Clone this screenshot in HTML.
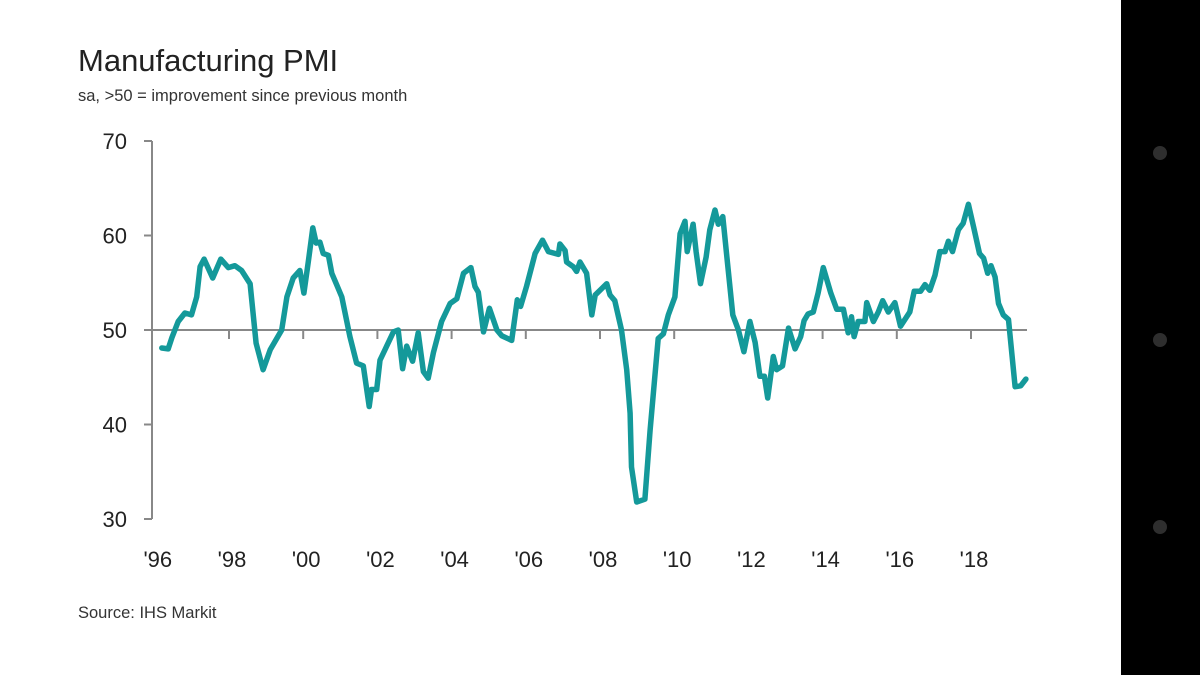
<!DOCTYPE html>
<html><head><meta charset="utf-8"><style>
html,body{margin:0;padding:0;background:#fff;}
body{width:1200px;height:675px;overflow:hidden;position:relative;font-family:"Liberation Sans",sans-serif;}
</style></head><body>
<svg width="1200" height="675" viewBox="0 0 1200 675" xmlns="http://www.w3.org/2000/svg">
<rect x="0" y="0" width="1121" height="675" fill="#fff"/>
<rect x="1121" y="0" width="79" height="675" fill="#000"/>
<circle cx="1160" cy="153" r="7" fill="#2e2e2e"/>
<circle cx="1160" cy="340" r="7" fill="#2e2e2e"/>
<circle cx="1160" cy="527" r="7" fill="#2e2e2e"/>
<text x="78" y="71" font-size="31" fill="#222">Manufacturing PMI</text>
<text x="78" y="101" font-size="16.5" fill="#333">sa, &gt;50 = improvement since previous month</text>
<text x="78" y="618" font-size="16.5" fill="#333">Source: IHS Markit</text>
<g id="axes"></g>
<g id="plot"></g>
</svg>
<script>
const dates=[1996.19,1996.36,1996.46,1996.63,1996.81,1996.99,1997.13,1997.22,1997.33,1997.56,1997.78,1997.98,1998.16,1998.34,1998.57,1998.73,1998.92,1999.11,1999.42,1999.56,1999.73,1999.91,2000.02,2000.14,2000.26,2000.35,2000.45,2000.54,2000.68,2000.77,2000.90,2001.04,2001.26,2001.44,2001.62,2001.78,2001.84,2001.98,2002.07,2002.25,2002.43,2002.56,2002.68,2002.79,2002.95,2003.10,2003.24,2003.37,2003.51,2003.73,2003.96,2004.14,2004.32,2004.52,2004.63,2004.72,2004.86,2005.02,2005.22,2005.35,2005.62,2005.77,2005.86,2006.02,2006.25,2006.45,2006.61,2006.88,2006.92,2007.06,2007.10,2007.28,2007.37,2007.46,2007.64,2007.78,2007.87,2008.05,2008.18,2008.27,2008.40,2008.58,2008.72,2008.81,2008.85,2008.99,2009.21,2009.35,2009.57,2009.71,2009.84,2010.02,2010.16,2010.29,2010.35,2010.51,2010.59,2010.71,2010.86,2010.96,2011.10,2011.19,2011.31,2011.42,2011.58,2011.73,2011.88,2012.04,2012.18,2012.31,2012.43,2012.52,2012.67,2012.76,2012.92,2013.08,2013.26,2013.41,2013.50,2013.61,2013.75,2013.88,2014.02,2014.22,2014.38,2014.56,2014.69,2014.78,2014.85,2014.96,2015.14,2015.19,2015.37,2015.50,2015.62,2015.77,2015.95,2016.10,2016.35,2016.47,2016.64,2016.76,2016.89,2017.03,2017.16,2017.30,2017.39,2017.50,2017.66,2017.79,2017.93,2018.07,2018.23,2018.34,2018.45,2018.54,2018.65,2018.74,2018.87,2019.01,2019.19,2019.34,2019.48];
const pmi=[48.1,48.0,49.2,50.9,51.8,51.6,53.5,56.7,57.5,55.5,57.5,56.6,56.8,56.3,54.9,48.6,45.8,47.9,50.0,53.5,55.5,56.3,53.9,57.3,60.8,59.2,59.3,58.1,57.9,56.0,54.8,53.5,49.3,46.5,46.2,41.9,43.7,43.7,46.8,48.3,49.8,50.0,45.9,48.3,46.7,49.7,45.6,44.9,47.6,50.9,52.8,53.3,56.0,56.6,54.6,54.0,49.8,52.3,50.0,49.4,48.9,53.2,52.5,54.6,58.1,59.5,58.3,58.0,59.1,58.4,57.2,56.7,56.2,57.2,56.0,51.6,53.7,54.4,54.9,53.7,53.1,50.0,45.8,41.2,35.5,31.8,32.1,39.4,49.1,49.6,51.6,53.5,60.2,61.5,58.3,61.2,58.3,54.9,57.7,60.6,62.7,61.2,62.0,57.7,51.6,50.0,47.7,50.9,48.7,45.1,45.1,42.8,47.2,45.8,46.2,50.2,48.0,49.3,51.0,51.7,51.9,53.9,56.6,53.9,52.2,52.2,49.7,51.4,49.3,50.9,50.9,52.9,50.9,51.9,53.1,51.9,52.9,50.4,51.9,54.1,54.1,54.8,54.2,55.8,58.3,58.3,59.4,58.3,60.6,61.3,63.3,60.9,58.1,57.6,56.0,56.8,55.6,52.8,51.6,51.1,44.0,44.1,44.8];
const yTicks=[30,40,50,60,70];
const xTickYears=[1998,2000,2002,2004,2006,2008,2010,2012,2014,2016,2018];
const xLabels=["'96","'98","'00","'02","'04","'06","'08","'10","'12","'14","'16","'18"];
const xLabelYears=[1996,1998,2000,2002,2004,2006,2008,2010,2012,2014,2016,2018];

const NS="http://www.w3.org/2000/svg";
const xS=t=>229+(t-1998)*37.1;
const yS=v=>330-(v-50)*9.45;
function mk(tag,attrs,parent){const e=document.createElementNS(NS,tag);for(const k in attrs)e.setAttribute(k,attrs[k]);parent.appendChild(e);return e;}
const axes=document.getElementById('axes'), plot=document.getElementById('plot');
const ax=mk('line',{x1:152,x2:152,y1:yS(70),y2:yS(30),stroke:'#888','stroke-width':2},axes);


yTicks.forEach(v=>{
  const t=mk('line',{x1:144,x2:152,y1:yS(v),y2:yS(v),stroke:'#888','stroke-width':2},axes);
  
  
  const l=mk('text',{x:127,y:yS(v)+8,'font-size':22,fill:'#222','text-anchor':'end'},axes);
  l.textContent=v;
  
  
});
const base=mk('line',{x1:152,x2:1027,y1:yS(50),y2:yS(50),stroke:'#888','stroke-width':2},axes);


xTickYears.forEach(yr=>{
  const t=mk('line',{x1:xS(yr),x2:xS(yr),y1:yS(50),y2:yS(50)+9,stroke:'#888','stroke-width':2},axes);
  
  
});
xLabelYears.forEach((yr,i)=>{
  const l=mk('text',{x:xS(yr)+3,y:567,'font-size':22,fill:'#222','text-anchor':'middle'},axes);
  l.textContent=xLabels[i];
  
  
});
const d=dates.map((t,i)=>(i?'L':'M')+xS(t).toFixed(1)+','+yS(pmi[i]).toFixed(1)).join(' ');
const p=mk('path',{d:d,fill:'none',stroke:'#14999a','stroke-width':5.5,'stroke-linejoin':'round','stroke-linecap':'round'},plot);


</script>
</body></html>
